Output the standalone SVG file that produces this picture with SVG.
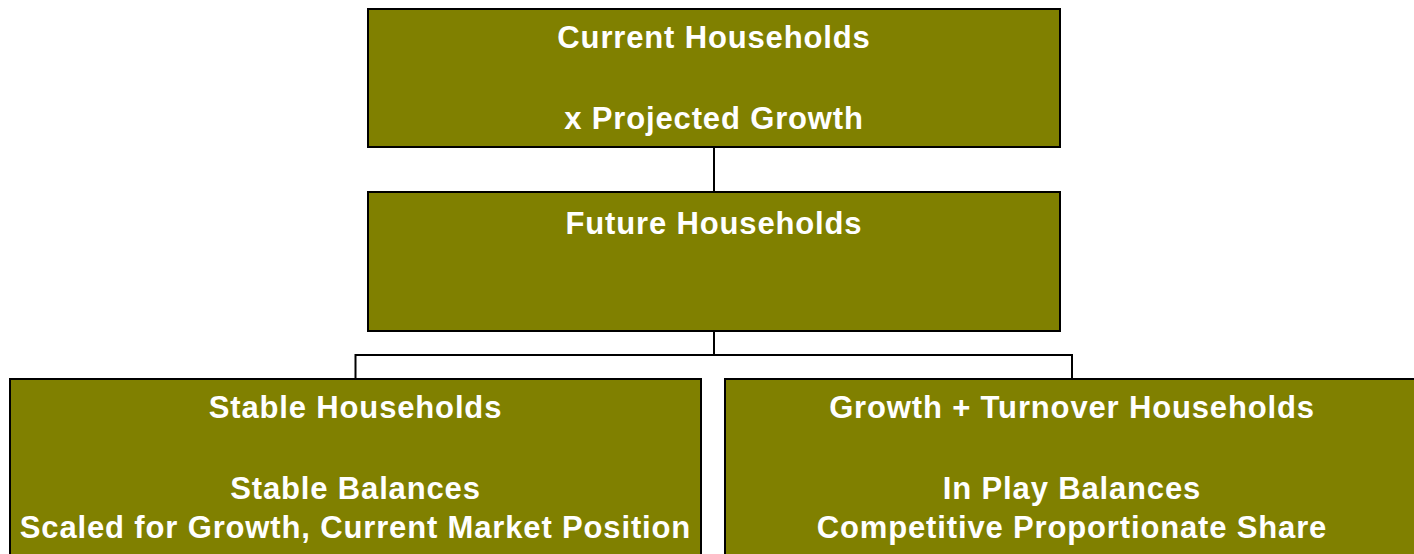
<svg xmlns="http://www.w3.org/2000/svg" width="1414" height="554" viewBox="0 0 1414 554">
  <style>
    .box { fill: #808000; stroke: #000000; stroke-width: 2; }
    .lbl { fill: #ffffff; font-family: "Liberation Sans", Arial, sans-serif; font-weight: bold; font-size: 31px; text-anchor: middle; letter-spacing: 0.85px; }
    .wire { fill: none; stroke: #000000; stroke-width: 2; }
  </style>
  <rect x="0" y="0" width="1414" height="554" fill="#ffffff"/>

  <g id="connectors">
    <line class="wire" x1="714" y1="147" x2="714" y2="192"/>
    <polyline class="wire" points="714,331 714,355"/>
    <polyline class="wire" points="355.5,379 355.5,355 1072,355 1072,379"/>
  </g>

  <g id="current-households">
    <rect class="box" x="368" y="9" width="692" height="138"/>
    <text class="lbl" x="714" y="48">Current Households</text>
    <text class="lbl" x="714" y="129">x Projected Growth</text>
  </g>

  <g id="future-households">
    <rect class="box" x="368" y="192" width="692" height="139"/>
    <text class="lbl" x="714" y="234">Future Households</text>
  </g>

  <g id="stable-households">
    <rect class="box" x="10" y="379" width="691" height="190"/>
    <text class="lbl" x="355.5" y="418">Stable Households</text>
    <text class="lbl" x="355.5" y="499">Stable Balances</text>
    <text class="lbl" x="355.5" y="538">Scaled for Growth, Current Market Position</text>
  </g>

  <g id="growth-turnover-households">
    <rect class="box" x="725" y="379" width="694" height="190"/>
    <text class="lbl" x="1072" y="418">Growth + Turnover Households</text>
    <text class="lbl" x="1072" y="499">In Play Balances</text>
    <text class="lbl" x="1072" y="538">Competitive Proportionate Share</text>
  </g>
</svg>
